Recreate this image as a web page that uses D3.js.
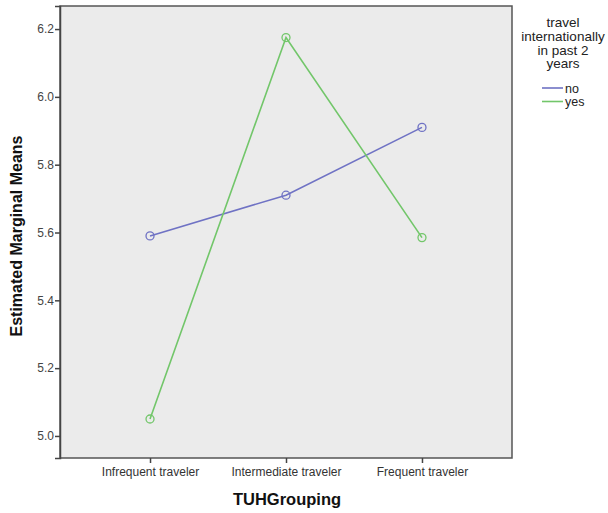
<!DOCTYPE html>
<html><head><meta charset="utf-8">
<script src="https://cdn.jsdelivr.net/npm/d3@7"></script>
<style>body{margin:0;background:#fff;}svg{display:block;font-family:Arial,"Liberation Sans",sans-serif;}</style>
</head><body>
<svg id="c" width="608" height="513"></svg>
<script>
const categories = ["Infrequent traveler", "Intermediate traveler", "Frequent traveler"];
const seriesNames = ["no", "yes"];
const noValues = [5.59, 5.71, 5.91];
const yesValues = [5.05, 6.175, 5.585];
const yTicks = [5.0, 5.2, 5.4, 5.6, 5.8, 6.0, 6.2];
const legendTitle = ["travel", "internationally", "in past 2", "years"];
const colors = {no: "#6f72c4", yes: "#72c66a"};

const svg = d3.select("#c");
const L = 60, T = 6, R = 512, B = 458;
const x = d3.scalePoint().domain(categories).range([L, R]).padding(0.662);
const y = d3.scaleLinear().domain([4.935, 6.268]).range([B, T]);

svg.append("rect").attr("x", L).attr("y", T).attr("width", R - L).attr("height", B - T)
  .attr("fill", "#ebebeb").attr("stroke", "#555").attr("stroke-width", 1.5);

const yAxis = svg.append("g").attr("transform", `translate(${L},0)`)
  .call(d3.axisLeft(y).tickValues(yTicks).tickFormat(d3.format(".1f")).tickSize(5));
yAxis.select(".domain").attr("stroke", "#444").attr("stroke-width", 1.5);
yAxis.selectAll(".tick line").attr("stroke", "#444").attr("stroke-width", 1.5);
yAxis.selectAll(".tick text").attr("fill", "#444").attr("font-size", 12).attr("x", -6);

const xAxis = svg.append("g").attr("transform", `translate(0,${B})`)
  .call(d3.axisBottom(x).tickSize(5));
xAxis.select(".domain").remove();
xAxis.selectAll(".tick line").attr("stroke", "#444").attr("stroke-width", 1.5);
xAxis.selectAll(".tick text").attr("fill", "#333").attr("font-size", 12).attr("dy", "0.85em");

const series = [{name: "no", values: noValues}, {name: "yes", values: yesValues}];
const line = d3.line().x((d, i) => x(categories[i])).y(d => y(d));
series.forEach(s => {
  svg.append("path").datum(s.values).attr("d", line).attr("fill", "none")
    .attr("stroke", colors[s.name]).attr("stroke-width", 1.6);
  svg.selectAll(null).data(s.values).enter().append("circle")
    .attr("cx", (d, i) => x(categories[i])).attr("cy", d => y(d)).attr("r", 4)
    .attr("fill", "none").attr("stroke", colors[s.name]).attr("stroke-width", 1.3);
});

svg.append("text").attr("transform", `translate(22,${(T + B) / 2 + 4}) rotate(-90)`)
  .attr("text-anchor", "middle").attr("font-weight", "bold").attr("font-size", 16)
  .attr("fill", "#111").text("Estimated Marginal Means");
svg.append("text").attr("x", 287).attr("y", 505).attr("text-anchor", "middle")
  .attr("font-weight", "bold").attr("font-size", 16.5).attr("fill", "#111").text("TUHGrouping");

const lg = svg.append("g");
lg.selectAll("text.t").data(legendTitle).enter().append("text")
  .attr("x", 563).attr("y", (d, i) => 27 + i * 13.8).attr("text-anchor", "middle")
  .attr("font-size", 13.5).attr("fill", "#222").text(d => d);
seriesNames.forEach((n, i) => {
  const yy = 88 + i * 13.5;
  lg.append("line").attr("x1", 542).attr("x2", 563).attr("y1", yy).attr("y2", yy)
    .attr("stroke", colors[n]).attr("stroke-width", 1.6);
  lg.append("text").attr("x", 565).attr("y", yy + 4.5).attr("font-size", 12.5)
    .attr("fill", "#222").text(n);
});
</script>
</body></html>
